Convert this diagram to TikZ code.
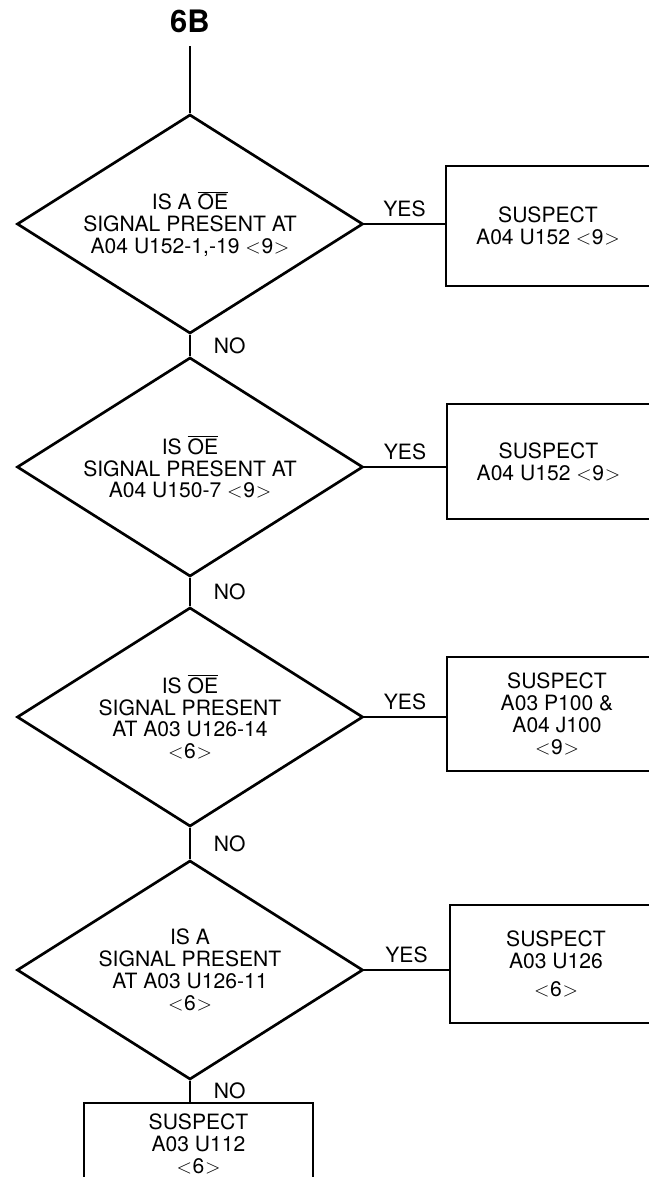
\documentclass[tikz,border=0pt]{standalone}
\usepackage{fontspec}
\setmainfont{TeX Gyre Heros}
\usetikzlibrary{shapes.geometric}
\newcommand{\OEbar}{$\overline{\mbox{OE}}$}
\newcommand{\pg}[1]{$<$\kern0.5pt#1\kern0.5pt$>$}

\begin{document}
\begin{tikzpicture}[x=0.025cm,y=-0.025cm,line width=1.9pt,
  txt/.style={font=\fontsize{15pt}{15.6pt}\selectfont,align=center},
  check/.style={txt,draw,diamond,aspect=1.58,inner sep=0pt,
                minimum width=8.65cm,minimum height=5.475cm},
  suspect/.style={txt,draw,rectangle,inner sep=0pt},
  yes/.style={txt,above=4pt,inner sep=0pt},
  no/.style={txt,right=16pt,inner sep=0pt}]
  \useasboundingbox (0,0) rectangle (649,1177);
  \clip (0,0) rectangle (649,1177);

  % Entry point
  \node[font=\fontsize{22pt}{24pt}\bfseries\selectfont,anchor=base,inner sep=9pt] (entry) at (190,32) {6B};

  % Check 1
  \node[check] (d1) at (190,224) {IS A \OEbar\\SIGNAL PRESENT AT\\A04 U152-1,-19 \pg{9}};
  \node[suspect,minimum width=5.1cm,minimum height=3cm] (b1) at (548,226) {SUSPECT\\A04 U152 \pg{9}};

  % Check 2
  \node[check] (d2) at (190,467) {IS \OEbar\\SIGNAL PRESENT AT\\A04 U150-7 \pg{9}};
  \node[suspect,minimum width=5.075cm,minimum height=2.875cm] (b2) at (548.5,461.5) {SUSPECT\\A04 U152 \pg{9}};

  % Check 3
  \node[check] (d3) at (190,717) {IS \OEbar\\SIGNAL PRESENT\\AT A03 U126-14\\\pg{6}};
  \node[suspect,minimum width=5.5cm,minimum height=2.85cm] (b3) at (557,714) {SUSPECT\\A03 P100 \&\\A04 J100\\\pg{9}};

  % Check 4
  \node[check] (d4) at (190,970) {IS A\\SIGNAL PRESENT\\AT A03 U126-11\\\pg{6}};
  \node[suspect,minimum width=5.3cm,minimum height=2.95cm] (b4) at (556,964) {SUSPECT\\A03 U126\\[4pt]\pg{6}};

  % Last resort
  \node[suspect,minimum width=5.725cm,minimum height=2.05cm] (b5) at (198.5,1144) {SUSPECT\\A03 U112\\\pg{6}};

  % Connectors
  \draw (entry.south) -- (d1.north);
  \draw (d1.east) -- (d1.east -| b1.west) node[yes,midway] {YES};
  \draw (d1.south) -- (d2.north) node[no,midway] {NO};
  \draw (d2.east) -- (d2.east -| b2.west) node[yes,midway] {YES};
  \draw (d2.south) -- (d3.north) node[no,midway] {NO};
  \draw (d3.east) -- (d3.east -| b3.west) node[yes,midway] {YES};
  \draw (d3.south) -- (d4.north) node[no,midway] {NO};
  \draw (d4.east) -- (d4.east -| b4.west) node[yes,midway] {YES};
  \draw (d4.south) -- (d4.south |- b5.north) node[no,midway] {NO};
\end{tikzpicture}
\end{document}
